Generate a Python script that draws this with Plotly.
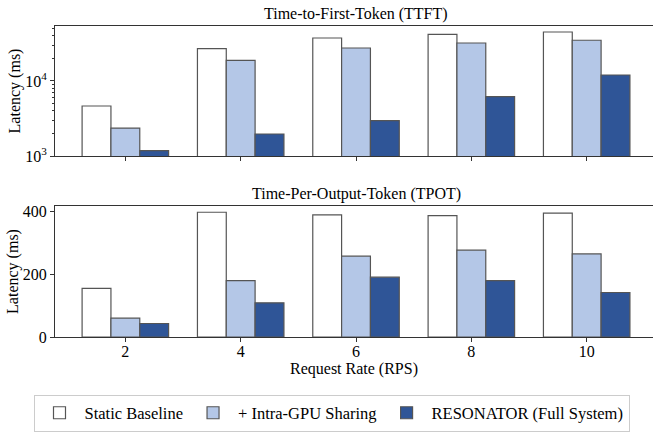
import plotly.graph_objects as go

rates = ["2", "4", "6", "8", "10"]
series_names = ["Static Baseline", "+ Intra-GPU Sharing", "RESONATOR (Full System)"]
ttft_static = [4640, 26970, 37440, 41870, 45000]
ttft_intra = [2360, 18880, 27540, 32100, 34900]
ttft_resonator = [1177, 1965, 2960, 6180, 12020]
tpot_static = [155, 398, 390, 387, 395]
tpot_intra = [60, 180, 258, 277, 265]
tpot_resonator = [43, 109, 191, 180, 142]

colors = ["#ffffff", "#b4c7e7", "#2f5597"]
edge = "#555555"
FONT = "Liberation Serif"


def f(size):
    return dict(family=FONT, size=size, color="#000000")


fig = go.Figure()
ttft = [ttft_static, ttft_intra, ttft_resonator]
tpot = [tpot_static, tpot_intra, tpot_resonator]
for i, name in enumerate(series_names):
    fig.add_trace(go.Bar(x=rates, y=ttft[i], name=name, marker=dict(color=colors[i], line=dict(color=edge, width=1.2)),
                         xaxis="x", yaxis="y", legendgroup=name, showlegend=True))
for i, name in enumerate(series_names):
    fig.add_trace(go.Bar(x=rates, y=tpot[i], name=name, marker=dict(color=colors[i], line=dict(color=edge, width=1.2)),
                         xaxis="x2", yaxis="y2", legendgroup=name, showlegend=False))

H = 433
L = 55
top, bot = 26, 96
ph = H - top - bot
pw = 653 - L
xr = [-0.61, 4.575]
common_x = dict(type="category", range=xr, showline=True, linecolor="#333333", linewidth=1, mirror=True,
                ticks="outside", ticklen=4, tickcolor="#333333", showgrid=False, zeroline=False, tickfont=f(16),
                ticklabelstandoff=-4)
common_y = dict(showline=True, linecolor="#333333", linewidth=1, ticks="outside", ticklen=4,
                tickcolor="#333333", showgrid=False, zeroline=False, tickfont=f(16))

fig.update_layout(
    width=653, height=H,
    margin=dict(l=L, r=0, t=top, b=bot),
    paper_bgcolor="white", plot_bgcolor="white",
    font=f(16),
    barmode="group", bargap=0.25, bargroupgap=0,
    xaxis=dict(common_x, domain=[0, 1], anchor="y", showticklabels=False),
    yaxis=dict(common_y, domain=[(337 - 156) / ph, 1], anchor="x", type="log",
               range=[3, 4.733], tickvals=[1e3, 1e4], ticktext=["10<sup>3</sup>", "10<sup>4</sup>"],
               minor=dict(ticks="outside", ticklen=2, tickcolor="#333333", showgrid=False, dtick="D1"),
               title=dict(text="Latency (ms)", standoff=0, font=f(16))),
    xaxis2=dict(common_x, domain=[0, 1], anchor="y2",
                title=dict(text="Request Rate (RPS)", standoff=0, font=f(16))),
    yaxis2=dict(common_y, domain=[0, (337 - 206) / ph], anchor="x2", range=[0, 418],
                tickvals=[0, 200, 400],
                title=dict(text="Latency (ms)", standoff=0, font=f(16))),
    legend=dict(orientation="h", x=(331.5 - L) / pw, xanchor="center", y=(337 - 413) / ph, yanchor="middle",
                bordercolor="#cccccc", borderwidth=1, font=f(16.5), traceorder="normal",
                itemwidth=40, bgcolor="white"),
    annotations=[
        dict(text="Time-to-First-Token (TTFT)", xref="x", yref="y domain", x=2, y=1, yanchor="bottom",
             showarrow=False, yshift=1, font=f(16)),
        dict(text="Time-Per-Output-Token (TPOT)", xref="x2", yref="y2 domain", x=2, y=1, yanchor="bottom",
             showarrow=False, yshift=1, font=f(16)),
    ],
)

fig.write_html("out.html")
